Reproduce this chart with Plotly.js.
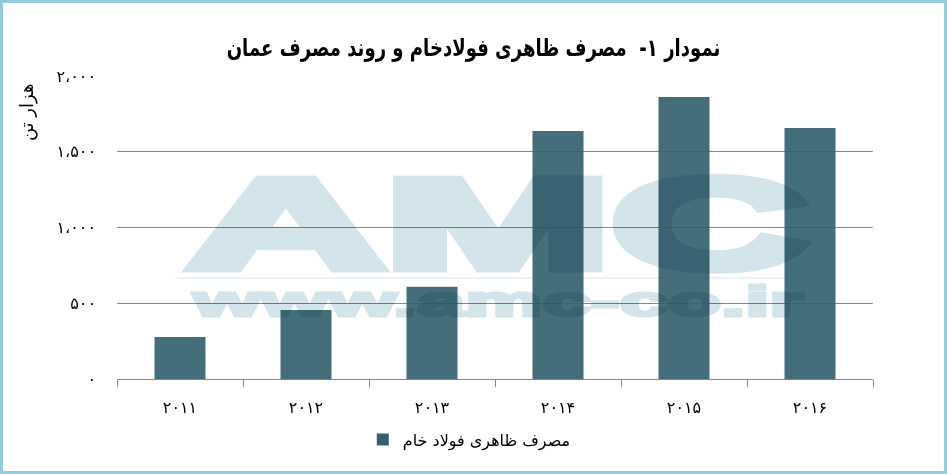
<!DOCTYPE html>
<html>
<head>
<meta charset="utf-8">
<script src="https://cdn.plot.ly/plotly-3.0.1.min.js"></script>
<style>
  html, body { margin: 0; padding: 0; background: #fff; }
  #wrap { position: relative; width: 947px; height: 474px; }
  #chart { width: 947px; height: 474px; }
  #frame { position: absolute; left: 0; top: 0; width: 947px; height: 474px; box-sizing: border-box; border: 3px solid #93cddd; pointer-events: none; }
</style>
</head>
<body>
<div id="wrap"><div id="chart"></div><div id="frame"></div></div>
<script>
// ---- data ----
const years = ['۲۰۱۱', '۲۰۱۲', '۲۰۱۳', '۲۰۱۴', '۲۰۱۵', '۲۰۱۶'];
const consumption = [277, 455, 609, 1637, 1861, 1657];
const yTickVals = [0, 500, 1000, 1500, 2000];
const yTickText = ['۰', '۵۰۰', '۱،۰۰۰', '۱،۵۰۰', '۲،۰۰۰'];
const seriesName = 'مصرف ظاهری فولاد خام';
const chartTitle = 'نمودار ۱-\u00a0\u00a0مصرف ظاهری فولادخام و روند مصرف عمان';
const yTitle = 'هزار تن';
const watermarkBig = 'AMC';
const watermarkSmall = 'www.amc-co.ir';

const FONT = 'DejaVu Sans, sans-serif';
const GRID = '#868686';
const WM = 'rgb(211,229,235)';

const trace = {
  type: 'bar',
  x: years,
  y: consumption,
  name: seriesName,
  marker: { color: 'rgb(51,96,110)', opacity: 0.91, line: { width: 0 } },
  showlegend: true,
  hoverinfo: 'x+y'
};

const layout = {
  width: 947,
  height: 474,
  margin: { l: 117, r: 74, t: 76, b: 95 },
  paper_bgcolor: '#ffffff',
  plot_bgcolor: '#ffffff',
  bargap: 0.595,
  title: {
    text: '<b>' + chartTitle + '</b>',
    font: { family: FONT, size: 24, color: '#000' },
    x: 0.5, xref: 'container', xanchor: 'center',
    y: 0.9, yref: 'container', yanchor: 'middle'
  },
  xaxis: {
    type: 'category',
    showline: true, linecolor: GRID, linewidth: 1,
    ticks: 'outside', tickson: 'boundaries', ticklen: 7, tickcolor: GRID, tickwidth: 1,
    tickfont: { family: FONT, size: 16, color: '#000' },
    ticklabelstandoff: 14,
    showgrid: false, zeroline: false
  },
  yaxis: {
    range: [0, 2000],
    tickmode: 'array', tickvals: yTickVals, ticktext: yTickText,
    showgrid: true, gridcolor: GRID, gridwidth: 1,
    zeroline: false, showline: false,
    ticks: '',
    tickfont: { family: FONT, size: 16, color: '#000' },
    ticklabelstandoff: 20
  },
  legend: {
    orientation: 'h',
    x: 0.466, xanchor: 'center', xref: 'paper',
    y: -0.2, yanchor: 'middle', yref: 'paper',
    font: { family: FONT, size: 16, color: '#000' },
    bgcolor: 'rgba(0,0,0,0)'
  },
  shapes: [
    { type: 'line', xref: 'paper', yref: 'paper', x0: 0.077, x1: 0.921, y0: 0.333, y1: 0.333,
      line: { color: 'rgb(236,243,245)', width: 2 }, layer: 'below' }
  ],
  annotations: [
    { text: '<b>' + watermarkBig + '</b>', xref: 'paper', yref: 'paper', x: 0.504, y: 0.513,
      xanchor: 'center', yanchor: 'middle', showarrow: false,
      font: { family: 'Liberation Sans, Arial, sans-serif', size: 128, color: WM } },
    { text: '<b>' + watermarkSmall + '</b>', xref: 'paper', yref: 'paper', x: 0.503, y: 0.257,
      xanchor: 'center', yanchor: 'middle', showarrow: false,
      font: { family: 'Liberation Sans, Arial, sans-serif', size: 43, color: WM } },
    { text: yTitle, xref: 'paper', yref: 'paper', x: -0.119, y: 0.881,
      xanchor: 'center', yanchor: 'middle', showarrow: false, textangle: -90,
      font: { family: FONT, size: 18, color: '#000' } }
  ]
};

// decorative watermark: [target width px, stroke width]
const STRETCH = { '0': [620, 9], '1': [612, 3] };

function squeeze(t, target) {
  t.removeAttribute('transform');
  const bb = t.getBBox();
  if (!bb.width) return;
  const sx = target / bb.width;
  const cx = bb.x + bb.width / 2;
  t.setAttribute('transform', 'translate(' + cx + ',0) scale(' + sx + ',1) translate(' + (-cx) + ',0)');
}

function stretch(gd) {
  const paper = gd.querySelector('svg.main-svg');
  const cart = paper ? paper.querySelector('.cartesianlayer') : null;
  Object.keys(STRETCH).forEach(function (idx) {
    const fresh = gd.querySelector('.infolayer .annotation[data-index="' + idx + '"]');
    if (!fresh) return;
    const cfg = STRETCH[idx];
    const t = fresh.querySelector('text.annotation-text');
    if (!t) return;
    t.style.stroke = WM;
    t.style.strokeWidth = cfg[1] + 'px';
    t.style.strokeLinejoin = 'miter';
    squeeze(t, cfg[0]);
    if (cart) {
      paper.querySelectorAll('.wm-moved[data-index="' + idx + '"]').forEach(function (o) { o.remove(); });
      fresh.classList.add('wm-moved');
      fresh.style.mixBlendMode = 'multiply';
      fresh.style.pointerEvents = 'none';
      cart.parentNode.insertBefore(fresh, cart.nextSibling);
    }
  });
  const title = gd.querySelector('text.gtitle');
  if (title) squeeze(title, 494);
}

const gd = document.getElementById('chart');
Plotly.newPlot(gd, [trace], layout, { displayModeBar: false, responsive: false }).then(function () {
  stretch(gd);
  gd.on('plotly_afterplot', function () { stretch(gd); });
});
</script>
</body>
</html>
